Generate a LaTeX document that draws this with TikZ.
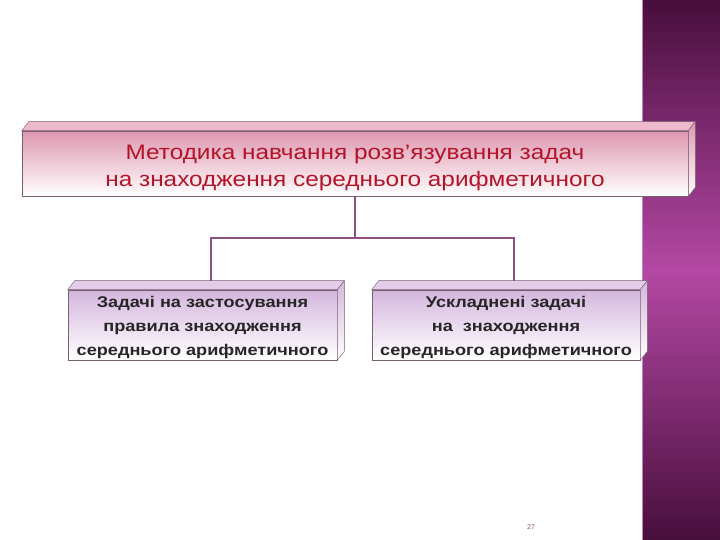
\documentclass[tikz,border=0pt]{standalone}
\usepackage{fontspec}
\setmainfont{Liberation Sans}
\newfontfamily\titlefont[FakeStretch=1.16]{Liberation Sans}
\newfontfamily\subfont[FakeStretch=1.17]{Liberation Sans}
\usetikzlibrary{calc}
\definecolor{bandDark}{RGB}{72,14,60}
\definecolor{bandMid}{RGB}{180,72,164}
\definecolor{pinkTop}{RGB}{222,150,176}
\definecolor{pinkLight}{RGB}{236,186,202}
\definecolor{lilacTop}{RGB}{212,182,222}
\definecolor{lilacLight}{RGB}{226,204,234}
\definecolor{edgeGray}{RGB}{120,96,112}
\definecolor{titleRed}{RGB}{180,20,40}
\definecolor{linkPurple}{RGB}{140,80,130}

\tikzset{
  topbox/.style={draw=edgeGray, line width=0.6pt, top color=pinkTop, bottom color=white,
    minimum width=666pt, minimum height=65pt, inner sep=0pt, align=center,
    font=\titlefont\fontsize{21}{27}\selectfont, text=titleRed},
  subbox/.style={draw=edgeGray, line width=0.6pt, top color=lilacTop, bottom color=white,
    minimum width=269pt, minimum height=70pt, inner sep=0pt, align=center,
    font=\subfont\fontsize{15.5}{24}\selectfont\bfseries, text=black!85},
  link/.style={draw=linkPurple, line width=1.6pt}
}

\begin{document}
\begin{tikzpicture}[x=1pt,y=1pt]
		\useasboundingbox (0,0) rectangle (720,540);
		%Purple band on the right
		\shade [top color=bandDark, bottom color=bandDark, middle color=bandMid] (642,0) rectangle (720,540);
		\draw [draw=bandMid!70!white, line width=0.8pt] (642.5,0) -- (642.5,540);
		%Boxes
		\node [topbox] (main) at (355,376.5) {\rule{0pt}{24pt}Методика навчання розв’язування задач\\на знаходження середнього арифметичного};
		\node [subbox] (rule) at (202.5,215) {\rule{0pt}{17pt}Задачі на застосування\\правила знаходження\\середнього арифметичного};
		\node [subbox, minimum width=268pt] (hard) at (506,215) {\rule{0pt}{17pt}Ускладнені задачі\\на~ знаходження\\середнього арифметичного};
		%Bevels
		\foreach \b/\c/\d in {main/pinkLight/pinkTop, rule/lilacLight/lilacTop, hard/lilacLight/lilacTop}{
			\filldraw [fill=\c, draw=edgeGray, line width=0.4pt] (\b.north west) -- ++(7,9) -- ($(\b.north east)+(7,9)$) -- (\b.north east) -- cycle;
			\shade [top color=\d, bottom color=white, draw=edgeGray, line width=0.4pt] (\b.north east) -- ++(7,9) -- ($(\b.south east)+(7,9)$) -- (\b.south east) -- cycle;
		}
		%Connectors
		\coordinate (ruleTop) at ($(rule.north)+(8.5,9)$);
		\coordinate (hardTop) at ($(hard.north)+(8,9)$);
		\draw [link] (main.south) -- ++(0,-42) coordinate (split);
		\draw [link] (ruleTop) |- (split) -| (hardTop);
		%Page number
		\node [font=\fontsize{7}{8}\selectfont, text=linkPurple] (page) at (531,13) {27};
\end{tikzpicture}
\end{document}
